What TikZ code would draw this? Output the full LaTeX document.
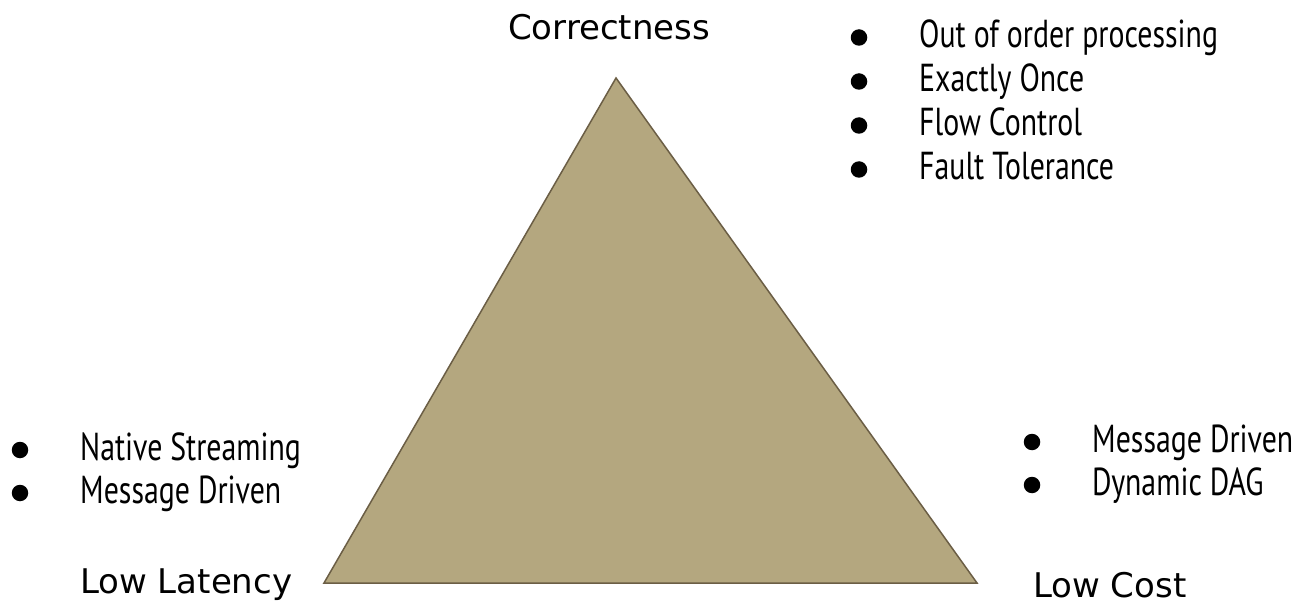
\documentclass[tikz,border=0pt]{standalone}
\usepackage{fontspec}
\setmainfont{PT Sans}[FakeStretch=0.765]
\newfontfamily\cornerfont{DejaVu Sans}
\usetikzlibrary{positioning}
\definecolor{khaki}{HTML}{B4A77F}
\definecolor{khakiedge}{HTML}{6B5E45}
\tikzset{
  tri/.style   ={draw=khakiedge,fill=khaki,line width=1.5pt,line join=miter},
  corner/.style={anchor=base west,inner sep=0pt,
                 font=\cornerfont\fontsize{34}{40}\selectfont},
  item/.style  ={anchor=base west,inner sep=0pt,font=\fontsize{39}{44}\selectfont},
  dot/.style   ={circle,fill=black,inner sep=0pt,minimum size=16.5pt}
}
\begin{document}
\begin{tikzpicture}[x=1pt,y=-1pt]
  \useasboundingbox (0,0) rectangle (1299,604);
  % the triangle
  \coordinate (top) at (616,78);
  \coordinate (bl) at (324,583);
  \coordinate (br) at (977,583);
  \draw[tri] (top) -- (bl) -- (br) -- cycle;
  % corner labels
  \node[corner] (correct) at (508,40) {Correctness};
  \node[corner] (latency) at (80,593) {Low Latency};
  \node[corner] (cost) at (1033,597) {Low Cost};
  % bullet lists
  \foreach \txt [count=\i] in {Out of order processing,Exactly Once,Flow Control,Fault Tolerance} {
    \node[item] (corr\i) at (919,4+44*\i) {\txt};
    \node[dot] (corrdot\i) at ([xshift=-60pt,yshift=10.5pt]corr\i.base west) {};
  }
  \foreach \txt [count=\i] in {Native Streaming,Message Driven} {
    \node[item] (lat\i) at (80,417+43*\i) {\txt};
    \node[dot] (latdot\i) at ([xshift=-60pt,yshift=10pt]lat\i.base west) {};
  }
  \foreach \txt [count=\i] in {Message Driven,Dynamic DAG} {
    \node[item] (cost\i) at (1092,409+43*\i) {\txt};
    \node[dot] (costdot\i) at ([xshift=-60pt,yshift=10pt]cost\i.base west) {};
  }
\end{tikzpicture}
\end{document}
